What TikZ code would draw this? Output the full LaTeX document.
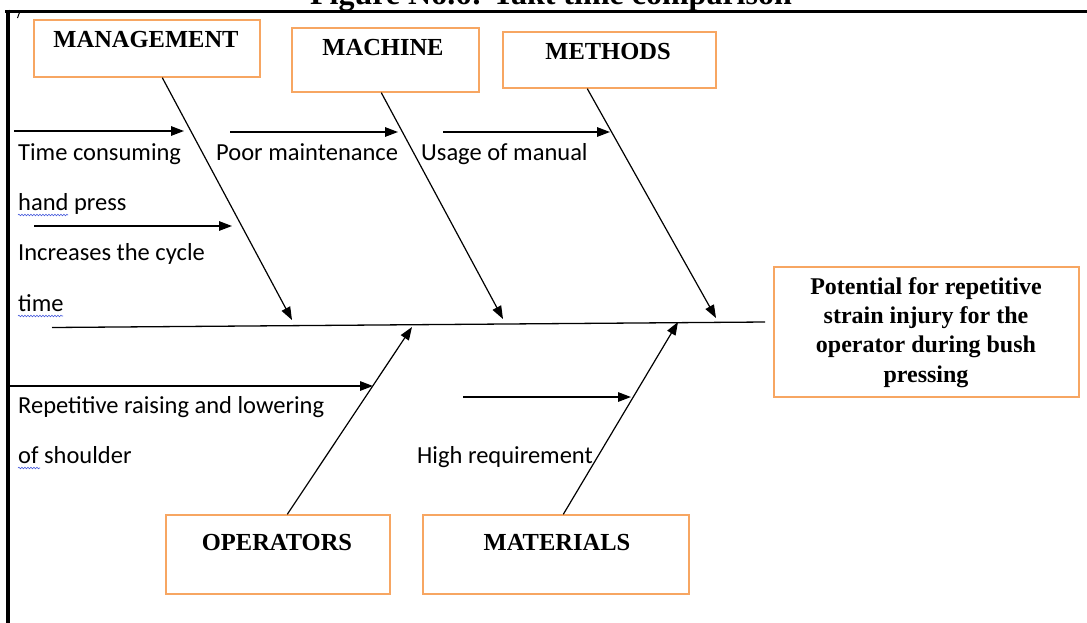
\documentclass[tikz,border=0pt]{standalone}
\usepackage{fontspec}
\setmainfont{Liberation Serif}
\newfontfamily\calfont{Carlito}
\usetikzlibrary{arrows.meta,calc,decorations.pathmorphing}
\definecolor{boxorange}{RGB}{247,166,98}
\definecolor{squigblue}{RGB}{70,90,220}
\begin{document}
\begin{tikzpicture}[x=1pt,y=-1pt,
  box/.style={draw=boxorange, line width=1.4pt, inner sep=0pt},
  head/.style={font=\fontsize{24.5}{29}\selectfont\bfseries, inner sep=0pt, anchor=base},
  cause/.style={font=\calfont\fontsize{24.5}{29}\selectfont, inner sep=0pt, anchor=base west},
  bone/.style={line width=1.2pt, -{Triangle[length=13pt,width=9.5pt]}},
  sub/.style={line width=1.4pt, -{Triangle[length=13pt,width=9.5pt]}},
  squig/.style={draw=squigblue, line width=0.6pt, decorate, decoration={snake,amplitude=0.8pt,segment length=3pt}}
]
\useasboundingbox (0,0) rectangle (1087,622);
\clip (0,0) rectangle (1087,622);

% title (cut off at top, as in the reference) and frame
\node[font=\fontsize{32}{36}\selectfont\bfseries, inner sep=0pt, anchor=base] (title) at (551,4.5) {Figure No.6: Takt time comparison};
\draw[line width=3.5pt] (5,11.5) -- (1090,11.5);
\draw[line width=4pt] (7.5,9.5) -- (7.5,625);
\draw[line width=1pt] (19.5,12.5) -- (17.5,18);

% category boxes
\node[box, minimum width=226pt, minimum height=57pt] (mgmt) at (147,48.5) {};
\node[head] (mgmtT) at (146,47) {MANAGEMENT};
\node[box, minimum width=187pt, minimum height=64pt] (mach) at (385.5,60) {};
\node[head] (machT) at (383,55) {MACHINE};
\node[box, minimum width=213pt, minimum height=56pt] (meth) at (609.5,60) {};
\node[head] (methT) at (608,59) {METHODS};
\node[box, minimum width=224pt, minimum height=79pt] (oper) at (278,554.5) {};
\node[head] (operT) at (277,550) {OPERATORS};
\node[box, minimum width=266pt, minimum height=79pt] (mat) at (556,554.5) {};
\node[head] (matT) at (557,550) {MATERIALS};

% effect box
\node[box, minimum width=305pt, minimum height=130pt] (effect) at (926.5,332) {};
\node[font=\fontsize{24}{29.3}\selectfont\bfseries, inner sep=0pt, align=center] (effectT) at (926,332.5)
  {Potential for repetitive\\strain injury for the\\operator during bush\\pressing};

% spine
\coordinate (sL) at (52,327.5);
\coordinate (sR) at (765,322);
\draw[line width=1.3pt] (sL) -- (sR);

% bone tips on the spine
\coordinate (tMgmt) at (292,320);
\coordinate (tMach) at (503,319);
\coordinate (tMeth) at (716,318);
\coordinate (tOper) at (412,327);
\coordinate (tMat) at (678,322);

\draw[bone] ($(mgmt.south west)+(129,0)$) -- (tMgmt);
\draw[bone] ($(mach.south west)+(90,0)$) -- (tMach);
\draw[bone] ($(meth.south west)+(85,0)$) -- (tMeth);
\draw[bone] ($(oper.north west)+(122,0)$) -- (tOper);
\draw[bone] ($(mat.north west)+(141,0)$) -- (tMat);

% sub-cause arrows
\coordinate (a1s) at (14,131);   \coordinate (a1e) at (184,131);
\coordinate (a2s) at (34,226);   \coordinate (a2e) at (232,226);
\coordinate (a3s) at (230,132);  \coordinate (a3e) at (398,132);
\coordinate (a4s) at (443,132);  \coordinate (a4e) at (610,132);
\coordinate (a5s) at (8,386);    \coordinate (a5e) at (373,386);
\coordinate (a6s) at (463,397);  \coordinate (a6e) at (631,397);
\draw[sub] (a1s) -- (a1e);
\draw[sub] (a2s) -- (a2e);
\draw[sub] (a3s) -- (a3e);
\draw[sub] (a4s) -- (a4e);
\draw[sub] (a5s) -- (a5e);
\draw[sub] (a6s) -- (a6e);

% cause texts
\node[cause] (c1) at (18,160) {Time consuming};
\node[cause] (c2) at (18,210) {hand press};
\node[cause] (c3) at (18,260) {Increases the cycle};
\node[cause] (c4) at (18,311) {time};
\node[cause] (c5) at (216,160) {Poor maintenance};
\node[cause] (c6) at (421,160) {Usage of manual};
\node[cause] (c7) at (18,413) {Repetitive raising and lowering};
\node[cause] (c8) at (18,463) {of shoulder};
\node[cause] (c9) at (417,463) {High requirement};

% spell-check squiggles
\draw[squig] ($(c2.base west)+(0,5)$) -- ++(50,0);
\draw[squig] ($(c4.base west)+(0,5)$) -- ++(45,0);
\draw[squig] ($(c8.base west)+(0,5)$) -- ++(22,0);
\end{tikzpicture}
\end{document}
